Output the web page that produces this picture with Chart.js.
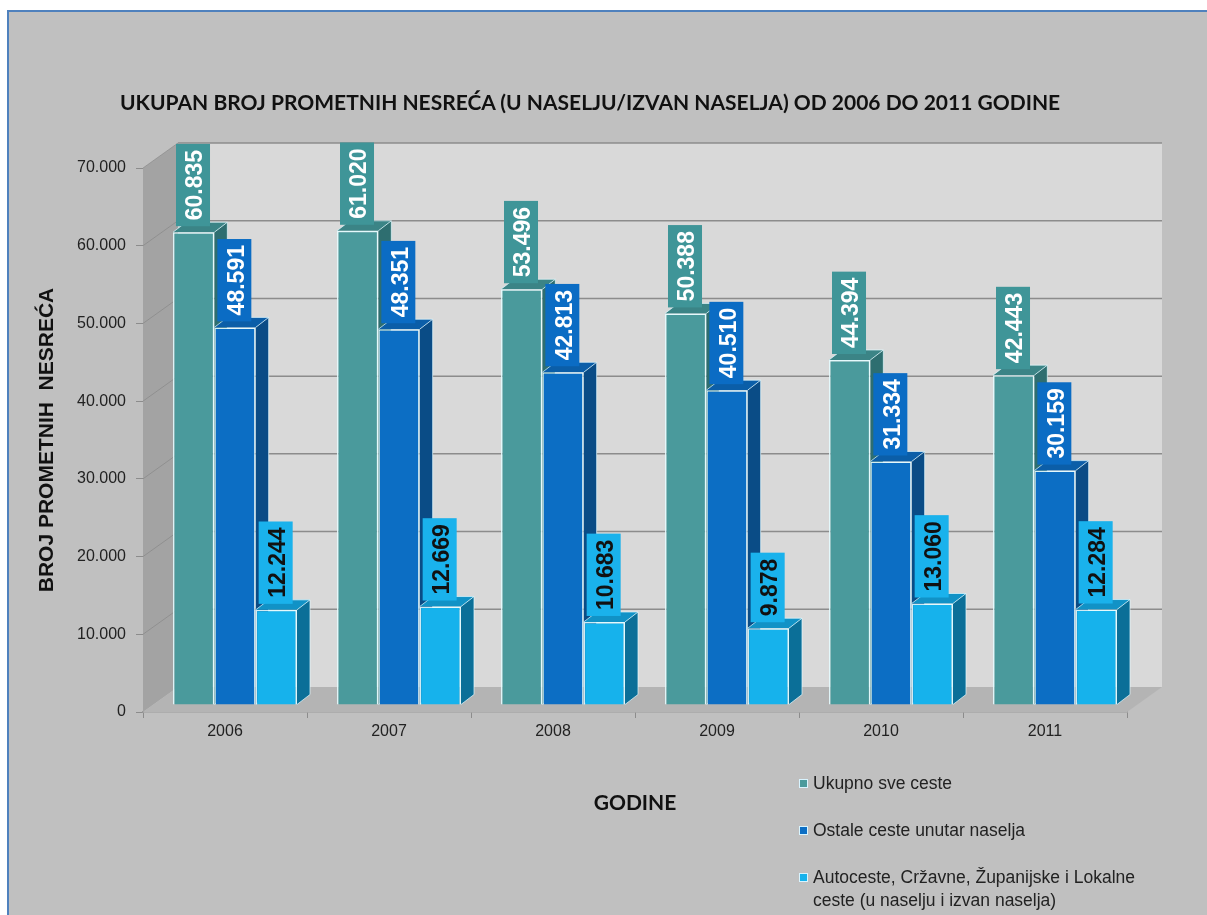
<!DOCTYPE html>
<html>
<head>
<meta charset="utf-8">
<title>Prometne nesreće 2006-2011</title>
<script src="https://cdn.jsdelivr.net/npm/chart.js@4.4.1/dist/chart.umd.min.js"></script>
<style>
  html, body { margin: 0; padding: 0; background: #fff; overflow: hidden; }
  #frame {
    position: absolute; left: 7px; top: 10px; width: 1220px; height: 930px;
    background: #c0c0c0; border-left: 2px solid #4f81bd; border-top: 2px solid #4f81bd;
  }
  #chart { position: absolute; left: 0; top: 0; }
  #title {
    position: absolute; left: 120px; top: 89px; line-height: 26px; white-space: nowrap;
    font: bold 21px Lato, sans-serif; color: #111;
  }
  #legend {
    position: absolute; left: 799px; top: 772px; width: 352px;
    font: 17.5px "Liberation Sans", Arial, sans-serif; line-height: 23px; color: #222;
  }
  #legend .item { display: flex; align-items: flex-start; margin-bottom: 24px; }
  #legend .swatch {
    flex: none; width: 7px; height: 7px; margin: 7px 5px 0 0; border: 1px solid #d8f4ff;
  }
</style>
</head>
<body>
<div id="frame"></div>
<canvas id="chart" width="1207" height="915"></canvas>
<div id="title">UKUPAN BROJ PROMETNIH NESREĆA (U NASELJU/IZVAN NASELJA) OD 2006 DO 2011 GODINE</div>
<div id="legend"></div>
<script>
const years = ["2006", "2007", "2008", "2009", "2010", "2011"];
const ukupno = [60835, 61020, 53496, 50388, 44394, 42443];
const ostale = [48591, 48351, 42813, 40510, 31334, 30159];
const autoceste = [12244, 12669, 10683, 9878, 13060, 12284];
const seriesNames = [
  "Ukupno sve ceste",
  "Ostale ceste unutar naselja",
  "Autoceste, Cržavne, Županijske i Lokalne ceste (u naselju i izvan naselja)",
];
const yMax = 70000;
const yStep = 10000;

// colours for the three faces of each bar and its value box
const faces = [
  {front: "#4a9a9c", side: "#2e6e70", top: "#3b8486", box: "#3f9598", text: "#ffffff"},
  {front: "#0c6ec4", side: "#0a4c86", top: "#0b5ea8", box: "#0b6cc4", text: "#ffffff"},
  {front: "#16b2ec", side: "#0b6f98", top: "#1192c6", box: "#1ab2ec", text: "#111111"},
];

const WALL = {x: 35, y: -25};   // depth of the back wall
const SHIFT = {x: 10, y: -7};   // bars stand a little behind the front edge
const DEPTH = {x: 13, y: -10};  // depth of one bar

const thousands = v => String(v).replace(/\B(?=(\d{3})+(?!\d))/g, ".");

function poly(ctx, pts, fill) {
  ctx.beginPath();
  ctx.moveTo(pts[0][0], pts[0][1]);
  pts.slice(1).forEach(p => ctx.lineTo(p[0], p[1]));
  ctx.closePath();
  ctx.fillStyle = fill;
  ctx.fill();
}

const box3d = {
  id: "box3d",
  beforeDatasetsDraw(chart) {
    const {ctx, chartArea: a, scales: {y}} = chart;
    const wx = WALL.x, wy = WALL.y;
    ctx.save();
    poly(ctx, [[a.left, a.top], [a.left + wx, a.top + wy], [a.left + wx, a.bottom + wy], [a.left, a.bottom]], "#a3a3a3");
    poly(ctx, [[a.left + wx, a.top + wy], [a.right + wx, a.top + wy], [a.right + wx, a.bottom + wy], [a.left + wx, a.bottom + wy]], "#d9d9d9");
    poly(ctx, [[a.left, a.bottom], [a.left + wx, a.bottom + wy], [a.right + wx, a.bottom + wy], [a.right, a.bottom]], "#b4b4b4");

    y.ticks.forEach(t => {
      if (t.value === 0) return;
      const py = y.getPixelForValue(t.value);
      ctx.strokeStyle = "#8c8c8c";
      ctx.lineWidth = 1.5;
      ctx.beginPath();
      ctx.moveTo(a.left + wx, py + wy);
      ctx.lineTo(a.right + wx, py + wy);
      ctx.stroke();
      ctx.strokeStyle = "rgba(120,120,120,0.45)";
      ctx.lineWidth = 1;
      ctx.beginPath();
      ctx.moveTo(a.left, py);
      ctx.lineTo(a.left + wx, py + wy);
      ctx.stroke();
    });
    ctx.restore();
  },
  beforeDatasetDraw() {
    // bars are drawn below, in depth order
    return false;
  },
  afterDatasetsDraw(chart) {
    const {ctx} = chart;
    ctx.save();
    ctx.translate(SHIFT.x, SHIFT.y);

    chart.data.datasets.forEach((ds, i) => {
      const f = faces[i];
      chart.getDatasetMeta(i).data.forEach(bar => {
        const {x, y, base, width} = bar.getProps(["x", "y", "base", "width"], true);
        const l = x - width / 2, r = x + width / 2;
        poly(ctx, [[r, y], [r + DEPTH.x, y + DEPTH.y], [r + DEPTH.x, base + DEPTH.y], [r, base]], f.side);
        poly(ctx, [[l, y], [l + DEPTH.x, y + DEPTH.y], [r + DEPTH.x, y + DEPTH.y], [r, y]], f.top);
        ctx.strokeStyle = "rgba(225,250,255,0.7)";
        ctx.lineWidth = 1;
        ctx.beginPath();
        ctx.moveTo(l, y);
        ctx.lineTo(l + DEPTH.x, y + DEPTH.y);
        ctx.lineTo(r + DEPTH.x, y + DEPTH.y);
        ctx.lineTo(r + DEPTH.x, base + DEPTH.y);
        ctx.lineTo(r, base);
        ctx.moveTo(r, y);
        ctx.lineTo(r + DEPTH.x, y + DEPTH.y);
        ctx.stroke();
        bar.draw(ctx);
      });
    });

    // value boxes, text running upwards
    ctx.font = "bold 23px 'Liberation Sans', Arial, sans-serif";
    ctx.textAlign = "center";
    ctx.textBaseline = "middle";
    chart.data.datasets.forEach((ds, i) => {
      const f = faces[i];
      chart.getDatasetMeta(i).data.forEach((bar, j) => {
        const {x, y, width} = bar.getProps(["x", "y", "width"], true);
        const txt = thousands(ds.data[j]);
        const h = ctx.measureText(txt).width + 12;
        const bx = x - width / 2 + 3, bw = 34, by = y - 6;
        ctx.fillStyle = f.box;
        ctx.fillRect(bx, by - h, bw, h);
        ctx.save();
        ctx.translate(bx + bw / 2 + 2, by - h / 2);
        ctx.rotate(-Math.PI / 2);
        ctx.fillStyle = f.text;
        ctx.fillText(txt, 0, 1);
        ctx.restore();
      });
    });
    ctx.restore();
  },
};

const chart = new Chart(document.getElementById("chart"), {
  type: "bar",
  data: {
    labels: years,
    datasets: [ukupno, ostale, autoceste].map((values, i) => ({
      label: seriesNames[i],
      data: values,
      backgroundColor: faces[i].front,
      borderColor: "rgba(230,252,255,0.9)",
      borderWidth: 1.5,
      categoryPercentage: 0.756,
      barPercentage: 1,
    })),
  },
  options: {
    responsive: false,
    animation: false,
    layout: {padding: {top: 168, right: 80, bottom: 0, left: 0}},
    plugins: {
      legend: {display: false},
      tooltip: {enabled: false},
    },
    scales: {
      x: {
        grid: {display: true, drawOnChartArea: false, drawTicks: true, tickLength: 6, color: "#8c8c8c"},
        border: {display: true, color: "#9a9a9a", width: 1.5},
        ticks: {color: "#222", padding: 4, font: {family: "'Liberation Sans', Arial", size: 16}},
        title: {
          display: true, text: "GODINE", color: "#111",
          font: {family: "Lato", weight: "bold", size: 21},
          padding: {top: 0, bottom: 99},
        },
        afterFit: s => { s.height = 203; },
      },
      y: {
        min: 0,
        max: yMax,
        grid: {display: true, drawOnChartArea: false, drawTicks: true, tickLength: 7, color: "#8c8c8c"},
        border: {display: false},
        ticks: {
          stepSize: yStep, color: "#222", padding: 10,
          font: {family: "'Liberation Sans', Arial", size: 16},
          callback: v => thousands(v),
        },
        title: {
          display: true, text: "BROJ PROMETNIH  NESREĆA", color: "#111",
          font: {family: "'Liberation Sans', Arial", weight: "bold", size: 21},
          padding: {top: 35, bottom: 0},
        },
        afterFit: s => { s.width = 143; },
      },
    },
  },
  plugins: [box3d],
});

// legend built from the chart's own datasets
const legend = document.getElementById("legend");
chart.data.datasets.forEach(ds => {
  const item = document.createElement("div");
  item.className = "item";
  const sw = document.createElement("span");
  sw.className = "swatch";
  sw.style.background = ds.backgroundColor;
  const label = document.createElement("span");
  label.textContent = ds.label;
  item.appendChild(sw);
  item.appendChild(label);
  legend.appendChild(item);
});
</script>
</body>
</html>
